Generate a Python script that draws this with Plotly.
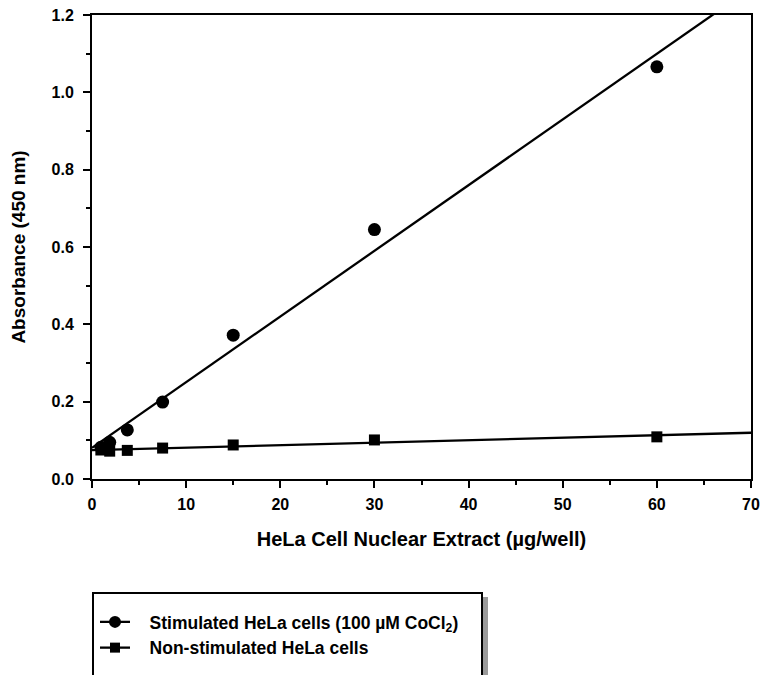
import numpy as np
import plotly.graph_objects as go

# ---- data ----
extract_ug = [0.94, 1.88, 3.75, 7.5, 15, 30, 60]
stimulated_abs = [0.082, 0.095, 0.127, 0.199, 0.372, 0.645, 1.066]
nonstim_abs = [0.075, 0.072, 0.074, 0.080, 0.088, 0.101, 0.109]
series_names = ["Stimulated HeLa cells (100 µM CoCl<sub>2</sub>)", "Non-stimulated HeLa cells"]
x_ticks = [0, 10, 20, 30, 40, 50, 60, 70]
y_ticks = [0.0, 0.2, 0.4, 0.6, 0.8, 1.0, 1.2]

FONT = "Liberation Sans, Arial, Helvetica, sans-serif"
fig = go.Figure()

line_x = np.array([0.0, 70.0])
for yvals, sym, size in [(stimulated_abs, "circle", 13), (nonstim_abs, "square", 11)]:
    slope, icpt = np.polyfit(extract_ug, yvals, 1)
    fig.add_trace(go.Scatter(x=line_x, y=slope * line_x + icpt, mode="lines",
                             line=dict(color="black", width=2.3), showlegend=False,
                             hoverinfo="skip"))
    fig.add_trace(go.Scatter(x=extract_ug, y=yvals, mode="markers",
                             marker=dict(symbol=sym, size=size, color="black"),
                             showlegend=False, cliponaxis=False))

pad = "\u00a0\u00a0\u00a0"
for name, sym, size in [(series_names[0], "circle", 12), (series_names[1], "square", 10)]:
    fig.add_trace(go.Scatter(x=[None], y=[None], mode="lines+markers", name=pad + name,
                             line=dict(color="black", width=2.3),
                             marker=dict(symbol=sym, size=size, color="black")))

axis_common = dict(showline=True, linecolor="black", linewidth=2, mirror=True,
                   ticks="outside", ticklen=7, tickwidth=2, tickcolor="black",
                   showgrid=False, zeroline=False, automargin=False,
                   tickfont=dict(family=FONT, size=16, color="black", weight="bold"))

fig.update_xaxes(range=[0, 70], tickvals=x_ticks, ticktext=[str(v) for v in x_ticks],
                 minor=dict(ticks="outside", ticklen=4, tickwidth=2, tickcolor="black", dtick=5),
                 title=dict(text="<b>HeLa Cell Nuclear Extract (µg/well)</b>",
                            font=dict(family=FONT, size=20, color="black"), standoff=20),
                 ticklabelstandoff=3, **axis_common)
fig.update_yaxes(range=[0, 1.2], tickvals=y_ticks, ticktext=[f"{v:.1f}" for v in y_ticks],
                 minor=dict(ticks="outside", ticklen=4, tickwidth=2, tickcolor="black", dtick=0.1),
                 title=dict(text="<b>Absorbance (450 nm)</b>",
                            font=dict(family=FONT, size=19, color="black"), standoff=21),
                 ticklabelstandoff=6, **axis_common)

W0, W1, H0, H1 = 92, 751, 15, 479
def px(x):
    return (x - W0) / (W1 - W0)
def py(y):
    return (H1 - y) / (H1 - H0)

fig.add_shape(type="rect", xref="paper", yref="paper", x0=px(483), x1=px(488),
              y0=py(700), y1=py(597), fillcolor="#9a9a9a", line=dict(width=0), layer="above")
fig.add_shape(type="rect", xref="paper", yref="paper", x0=px(93), x1=px(482),
              y0=py(700), y1=py(593), line=dict(color="black", width=2), layer="above")

fig.update_layout(
    width=762, height=675,
    margin=dict(l=W0, r=762 - W1, t=H0, b=675 - H1, autoexpand=False),
    plot_bgcolor="white", paper_bgcolor="white",
    font=dict(family=FONT, color="black"),
    showlegend=True,
    legend=dict(x=px(95), y=py(604), xanchor="left", yanchor="top",
                bgcolor="rgba(0,0,0,0)", borderwidth=0,
                font=dict(family=FONT, size=17.5, color="black", weight="bold"),
                tracegroupgap=0),
)

fig.write_html("out.html", config={"displayModeBar": False},
               post_script="document.body.style.margin='0';document.body.style.overflow='hidden';")
